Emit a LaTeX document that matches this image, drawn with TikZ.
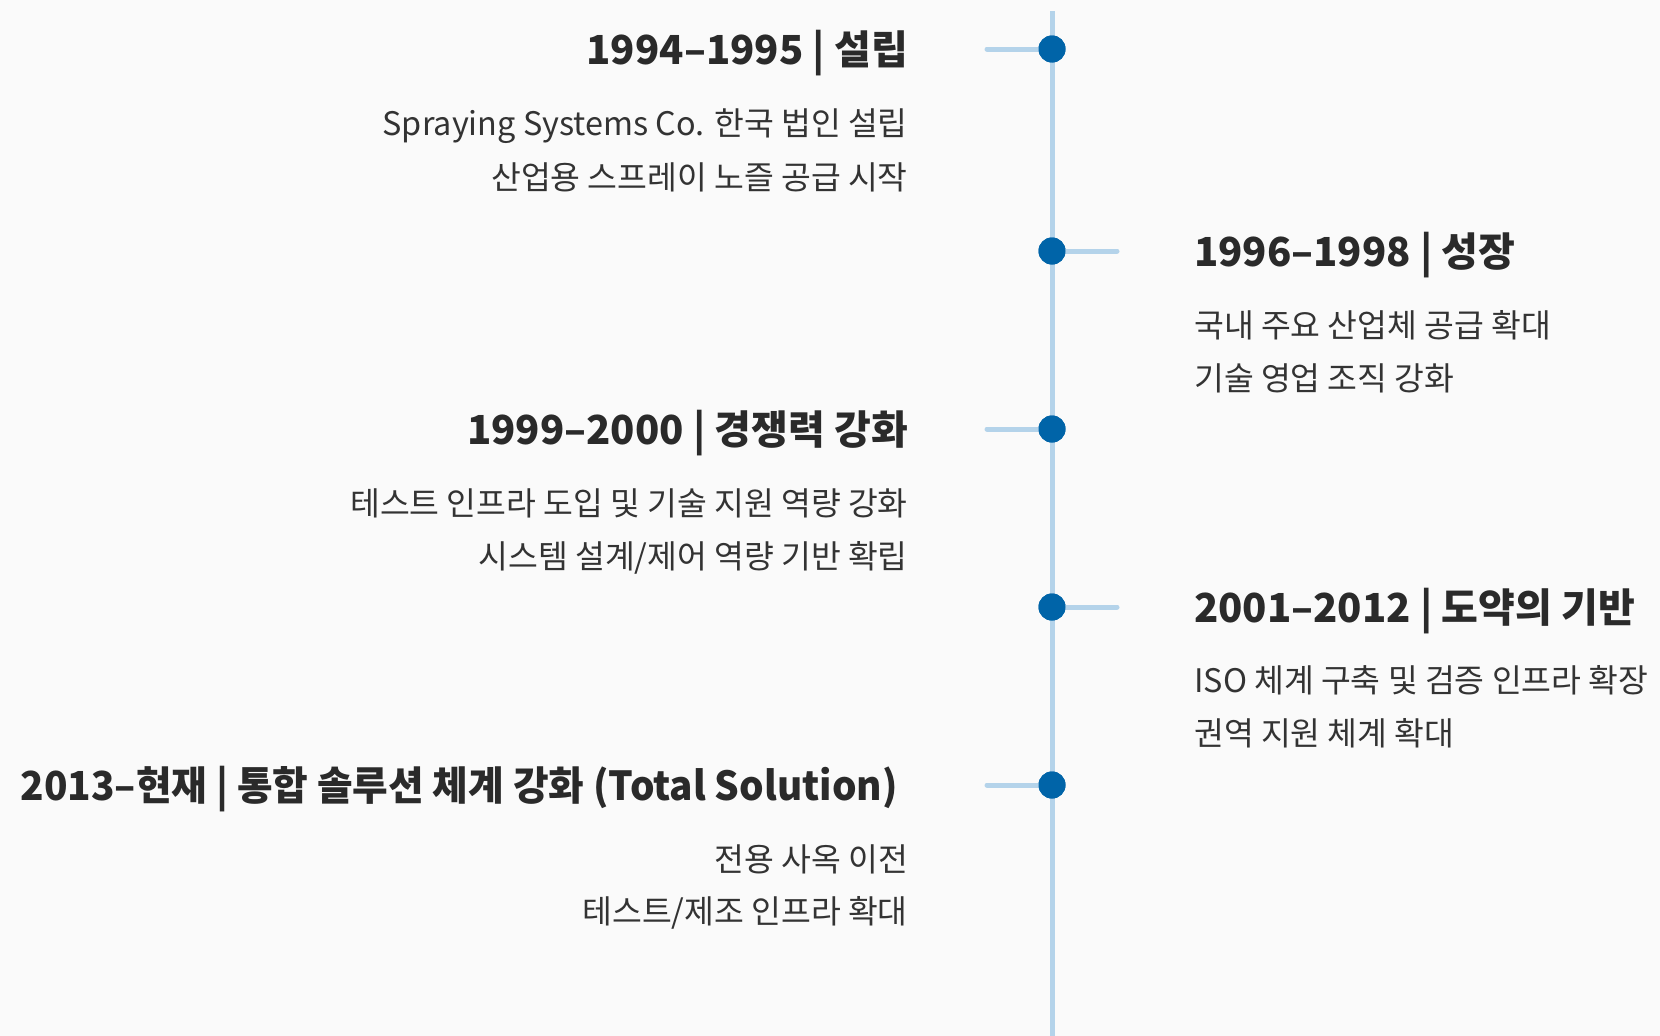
\documentclass[tikz,border=0pt]{standalone}
\usepackage{fontspec}
\setmainfont{Noto Sans CJK KR}
\definecolor{bgc}{HTML}{FAFAFA}
\definecolor{linec}{HTML}{B4D3EA}
\definecolor{dotc}{HTML}{0064A8}
\definecolor{titlec}{HTML}{2A2A2A}
\definecolor{bodyc}{HTML}{333333}
\begin{document}
\begin{tikzpicture}[x=1pt,y=-1pt,
  dot/.style={circle,fill=dotc,minimum size=27pt,inner sep=0pt},
  stub/.style={draw=linec,line width=5pt,line cap=round},
  ttl/.style={font=\fontsize{40}{48}\selectfont\bfseries,text=titlec,inner sep=0pt},
  bdy/.style={font=\fontsize{32.4}{38}\selectfont,text=bodyc,inner sep=0pt},
  lft/.style={anchor=east},
  rgt/.style={anchor=west}]
\fill[bgc] (0,0) rectangle (1660,1036);
\useasboundingbox (0,0) rectangle (1660,1036);
\coordinate (top) at (1052,11);
\coordinate (bot) at (1052,1036);
\draw[stub,line cap=butt] (top) -- (bot);
\coordinate (s1) at (987,49);
\coordinate (s2) at (1117,251);
\coordinate (s3) at (987,429);
\coordinate (s4) at (1117,607);
\coordinate (s5) at (987,785);
\node[dot] (d1) at (1052,49) {};
\node[dot] (d2) at (1052,251) {};
\node[dot] (d3) at (1052,429) {};
\node[dot] (d4) at (1052,607) {};
\node[dot] (d5) at (1052,785) {};
\draw[stub] (s1) -- (d1.center);
\draw[stub] (s2) -- (d2.center);
\draw[stub] (s3) -- (d3.center);
\draw[stub] (s4) -- (d4.center);
\draw[stub] (s5) -- (d5.center);
\node[dot] at (d1) {};
\node[dot] at (d2) {};
\node[dot] at (d3) {};
\node[dot] at (d4) {};
\node[dot] at (d5) {};
% item 1
\node[ttl,lft] (t1) at (908,53) {1994–1995 | 설립};
\node[bdy,lft] (b1a) at (908,126) {Spraying Systems Co. 한국 법인 설립};
\node[bdy,lft] (b1b) at (908,177) {산업용 스프레이 노즐 공급 시작};
% item 2
\node[ttl,rgt] (t2) at (1194,255) {1996–1998 | 성장};
\node[bdy,rgt] (b2a) at (1194,325) {국내 주요 산업체 공급 확대};
\node[bdy,rgt] (b2b) at (1194,378) {기술 영업 조직 강화};
% item 3
\node[ttl,lft] (t3) at (908,433) {1999–2000 | 경쟁력 강화};
\node[bdy,lft] (b3a) at (908,503) {테스트 인프라 도입 및 기술 지원 역량 강화};
\node[bdy,lft] (b3b) at (908,558) {시스템 설계/제어 역량 기반 확립};
% item 4
\node[ttl,rgt] (t4) at (1194,611) {2001–2012 | 도약의 기반};
\node[bdy,rgt] (b4a) at (1194,680) {ISO 체계 구축 및 검증 인프라 확장};
\node[bdy,rgt] (b4b) at (1194,733) {권역 지원 체계 확대};
% item 5
\node[ttl,lft] (t5) at (898,789) {\scalebox{0.968}[1]{2013–현재 | 통합 솔루션 체계 강화 (Total Solution)}};
\node[bdy,lft] (b5a) at (908,859) {전용 사옥 이전};
\node[bdy,lft] (b5b) at (908,913) {테스트/제조 인프라 확대};
\end{tikzpicture}
\end{document}
